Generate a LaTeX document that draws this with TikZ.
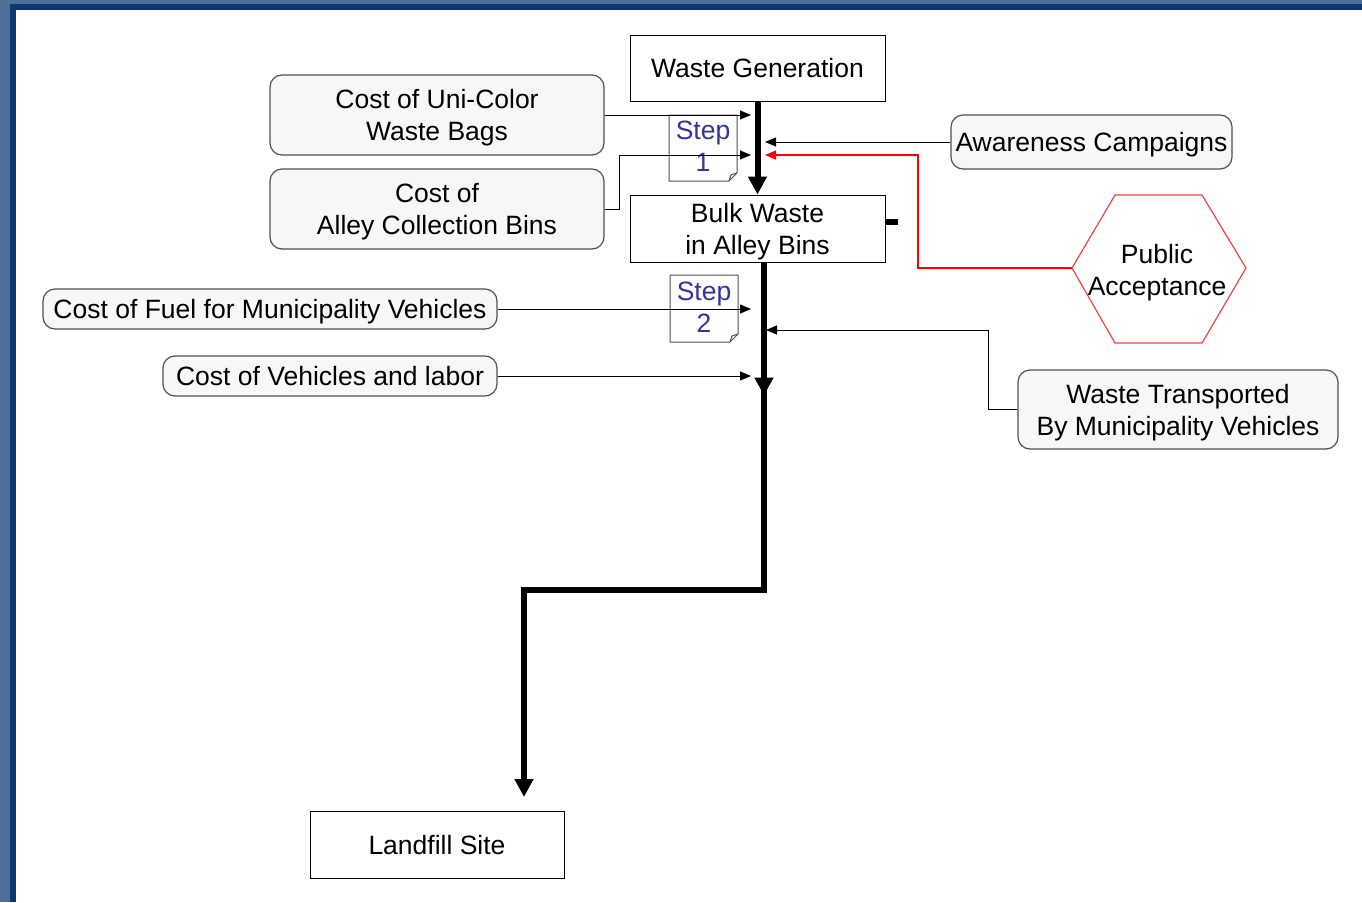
\documentclass[tikz,border=0pt]{standalone}
\usepackage{fontspec}
\setmainfont{Liberation Sans}
\usetikzlibrary{arrows.meta,decorations.markings}
\definecolor{bgblue}{HTML}{4F6F99}
\definecolor{navyline}{HTML}{0A3A6E}
\definecolor{steptext}{HTML}{333399}
\definecolor{boxfill}{HTML}{F7F7F7}
\definecolor{boxline}{HTML}{505050}
\definecolor{hexred}{HTML}{FF4040}
\begin{document}
\begin{tikzpicture}[x=1pt,y=-1pt,
  every node/.style={font=\fontsize{26.5}{32}\selectfont, align=center, inner sep=0pt, text depth=0pt},
  sqbox/.style={draw=black, line width=1pt, fill=white},
  rbox/.style={draw=boxline, line width=1.2pt, fill=boxfill, rounded corners=12pt},
  steptxt/.style={text=steptext},
  notestyle/.style={draw=boxline, line width=1pt, line join=miter},
  thinarrow/.style={line width=1pt, -{Triangle[length=11pt,width=9pt]}},
  thickflow/.style={line width=6pt, -{Triangle[length=18pt,width=18pt]}},
  midtip/.style={postaction={decorate}, decoration={markings,
      mark=at position 133pt with {\arrow{Triangle[length=18pt,width=18pt]}}}}
]
\useasboundingbox (0,0) rectangle (1362,902);
% background frame
\fill[bgblue] (0,0) rectangle (1362,902);
\fill[navyline] (10,4) rectangle (1362,902);
\fill[white] (16,10) rectangle (1362,902);

% main flow boxes
\node[sqbox, minimum width=255pt, minimum height=66pt] (wg) at (757.5,68) {Waste Generation};
\node[sqbox, minimum width=255pt, minimum height=67pt] (bulk) at (757.5,228.5) {Bulk Waste\\in Alley Bins};
\node[sqbox, minimum width=254pt, minimum height=67pt] (lf) at (437,844.5) {Landfill Site};
\fill (bulk.east) ++(0,-9.5) rectangle ++(12,6);

% cost / input boxes
\node[rbox, minimum width=334pt, minimum height=80pt] (bags) at (437,115) {Cost of Uni-Color\\Waste Bags};
\node[rbox, minimum width=334pt, minimum height=80pt] (bins) at (437,209) {Cost of\\Alley Collection Bins};
\node[rbox, minimum width=454pt, minimum height=40pt] (fuel) at (270,309) {Cost of Fuel for Municipality Vehicles};
\node[rbox, minimum width=334pt, minimum height=40pt] (veh) at (330,376) {Cost of Vehicles and labor};
\node[rbox, minimum width=281pt, minimum height=54pt] (aware) at (1091.5,142) {Awareness Campaigns};
\node[rbox, minimum width=320pt, minimum height=79pt] (transp) at (1178,409.5) {Waste Transported\\By Municipality Vehicles};

% public acceptance hexagon
\draw[hexred, line width=1.2pt] (1072,268) -- (1115,195) -- (1202,195) -- (1246,268) -- (1202,343) -- (1115,343) -- cycle;
\coordinate (pubW) at (1072,268);
\node (pub) at (1157,270) {Public\\Acceptance};

% step notes
\draw[notestyle] (669,115) -- (737,115) -- (737,173) -- (729,181) -- (669,181) -- cycle;
\draw[notestyle] (737,173) -- (731,175) -- (729,181);
\node[steptxt] (s1) at (703,146) {Step\\1};
\draw[notestyle] (670,275) -- (738,275) -- (738,334) -- (730,342) -- (670,342) -- cycle;
\draw[notestyle] (738,334) -- (732,336) -- (730,342);
\node[steptxt] (s2) at (704,307) {Step\\2};

% arrow end points on the trunk
\coordinate (t1) at (751,115);
\coordinate (t2) at (751,155);
\coordinate (t3) at (765,142);
\coordinate (t4) at (765,155);
\coordinate (t5) at (751,309);
\coordinate (t6) at (751,376);
\coordinate (t7) at (766,330);

% thin connectors
\draw[thinarrow] (bags.east) -- (t1);
\draw[thinarrow] (bins.east) -- ++(15,0) |- (t2);
\draw[thinarrow] (aware.west) -- (t3);
\draw[thinarrow, red, line width=1.2pt] (pubW) -- (918,268) |- (t4);
\draw[thinarrow] (fuel.east) -- (t5);
\draw[thinarrow] (veh.east) -- (t6);
\draw[thinarrow] (transp.west) -- (988,409.5) |- (t7);

% thick flow
\coordinate (b2) at ([xshift=6.5pt]bulk.south);
\coordinate (lftip) at (524,797);
\draw[thickflow] (wg.south) -- (bulk.north);
\draw[thickflow, midtip] (b2) -- (764,590) -- (524,590) -- (lftip);
\end{tikzpicture}
\end{document}
